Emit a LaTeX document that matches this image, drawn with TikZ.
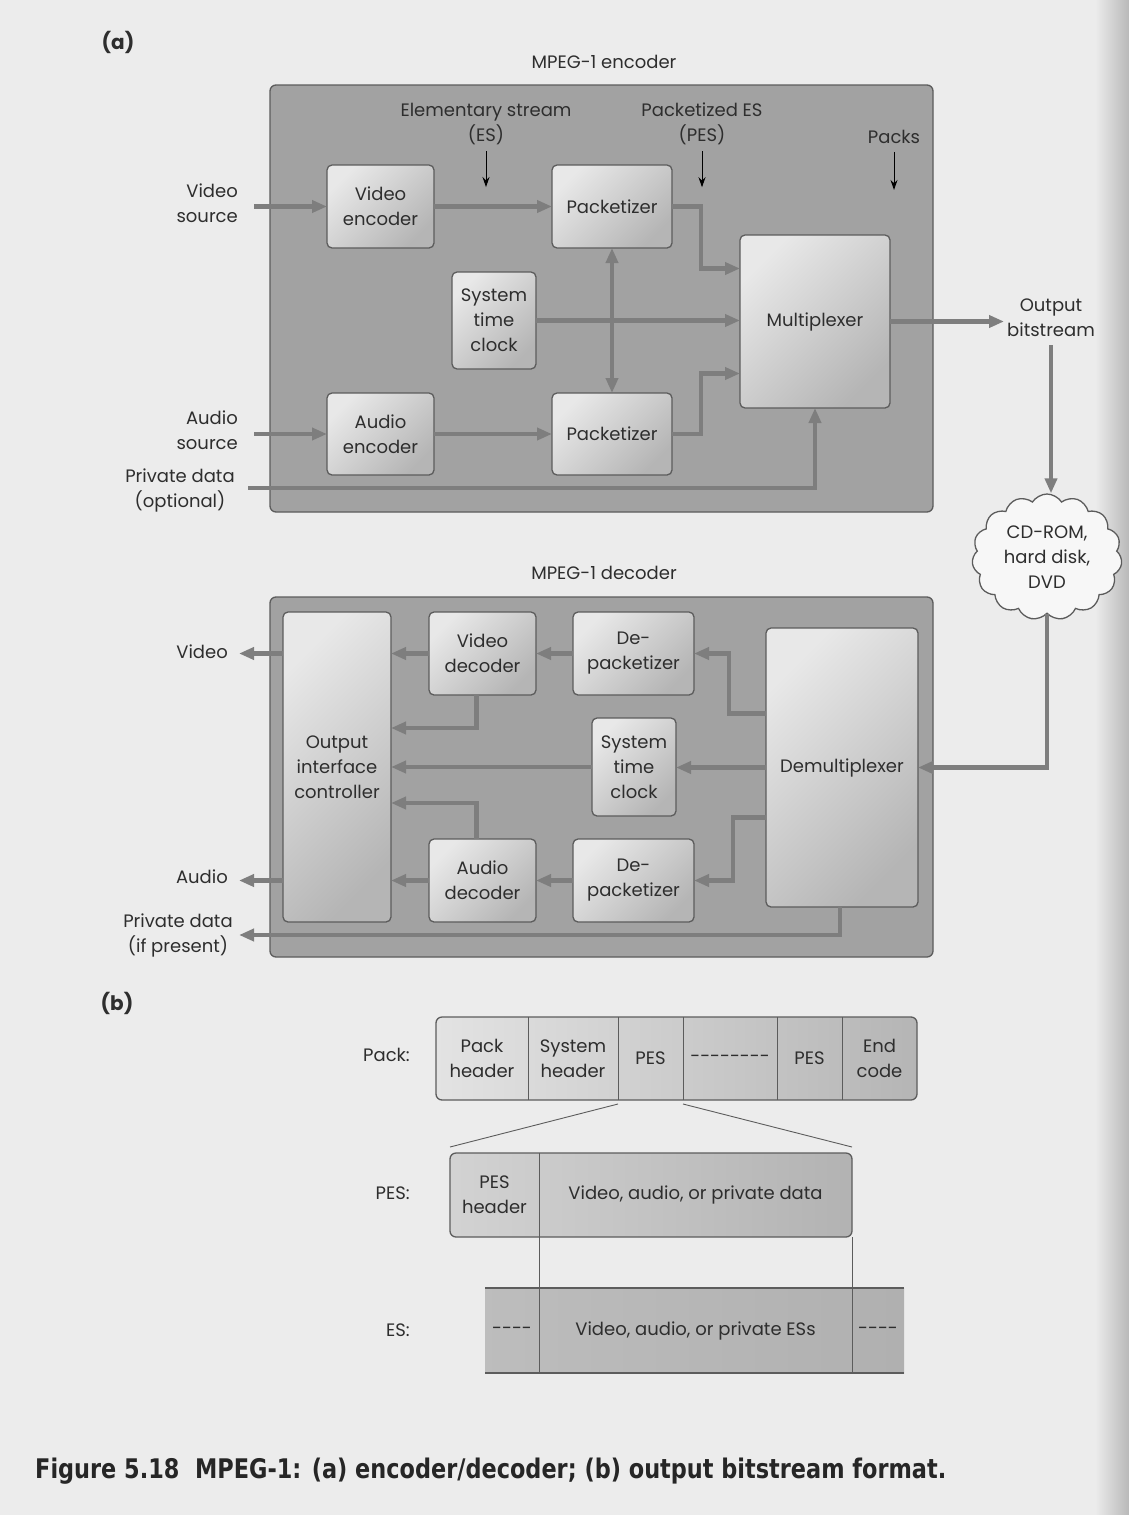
\documentclass[tikz,border=0pt]{standalone}
\usepackage{fontspec}
\setmainfont{Poppins}
\newfontfamily\capfont[FakeStretch=0.83]{DejaVu Sans}
\usetikzlibrary{arrows.meta,positioning,shapes.symbols}

\definecolor{pagebg}{HTML}{ECECEC}
\definecolor{boxbg}{HTML}{A2A2A2}
\definecolor{lineclr}{HTML}{7E7E7E}
\definecolor{edgeclr}{HTML}{5C5C5C}
\definecolor{inkclr}{HTML}{2E2E2E}

\tikzset{
  lbl/.style={font=\fontsize{18}{25}\selectfont, text=inkclr, align=center, inner sep=0pt},
  blk/.style={lbl, draw=edgeclr, line width=1.3pt, rounded corners=5pt, top color=gray!18, bottom color=gray!58, shading angle=45, outer sep=0pt},
  outerbox/.style={draw=edgeclr, line width=1.3pt, rounded corners=6pt, fill=boxbg},
  flow/.style={draw=lineclr, line width=4.5pt, -{Triangle[length=15pt,width=12pt]}},
  both/.style={flow, {Triangle[length=15pt,width=12pt]}-{Triangle[length=15pt,width=12pt]}},
  tick/.style={black, line width=1pt, -{Stealth[length=10pt,width=7pt]}},
  cell/.style={lbl, minimum height=83pt, outer sep=0pt},
  divider/.style={edgeclr, line width=0.9pt},
}

\begin{document}
\begin{tikzpicture}[x=1pt, y=-1pt]
    \useasboundingbox (0,0) rectangle (1129,1515);
    \fill[pagebg] (0,0) rectangle (1129,1515);
    \shade[left color=pagebg, right color=gray!55] (1095,0) rectangle (1129,1515);

    % (a) encoder
    \node[lbl, font=\fontsize{20}{24}\selectfont\bfseries] (tagA) at (118,42) {(a)};
    \node[lbl] (enctitle) at (604,62) {MPEG-1 encoder};
    \node[outerbox, minimum width=663pt, minimum height=427pt] (encbox) at (601.5,298.5) {};

    \node[blk, minimum width=107pt, minimum height=83pt] (venc) at (380.5,206.5) {Video\\encoder};
    \node[blk, minimum width=120pt, minimum height=83pt] (pk1) at (612,206.5) {Packetizer};
    \node[blk, minimum width=84pt, minimum height=97pt] (stc) at (494,320.5) {System\\time\\clock};
    \node[blk, minimum width=107pt, minimum height=82pt] (aenc) at (380.5,434) {Audio\\encoder};
    \node[blk, minimum width=120pt, minimum height=82pt] (pk2) at (612,434) {Packetizer};
    \node[blk, minimum width=150pt, minimum height=173pt] (mux) at (815,321.5) {Multiplexer};

    \node[lbl, align=right, anchor=east] (vsrc) at (238,203) {Video\\source};
    \node[lbl, align=right, anchor=east] (asrc) at (238,430) {Audio\\source};
    \node[lbl] (privin) at (180,490) {Private data\\(optional)};
    \node[lbl] (esl) at (486,124) {Elementary stream\\(ES)};
    \node[lbl] (pesl) at (702,124) {Packetized ES\\(PES)};
    \node[lbl] (packs) at (894,137) {Packs};
    \node[lbl] (outl) at (1051,318) {Output\\bitstream};
    \node[lbl, cloud, cloud puffs=15, cloud puff arc=115, aspect=1.2, draw=edgeclr, line width=1.3pt,
          fill=white!60!pagebg, minimum width=150pt, minimum height=126pt] (store) at (1047,557) {CD-ROM,\\hard disk,\\DVD};

    \coordinate (vin) at (254,206.5);
    \coordinate (ain) at (254,434);
    \coordinate (pin) at (248,488);
    \coordinate (oarr) at (1004,321.5);

    \draw[flow] (vin) -- (venc.west);
    \draw[flow] (venc.east) -- (pk1.west);
    \draw[flow] (ain) -- (aenc.west);
    \draw[flow] (aenc.east) -- (pk2.west);
    \draw[flow] (stc.east) -- (stc.east -| mux.west);
    \draw[both] (pk1.south) -- (pk2.north);
    \draw[flow] (pk1.east) -- ++(29,0) |- ([yshift=53pt]mux.west);
    \draw[flow] (pk2.east) -- ++(29,0) |- ([yshift=-52pt]mux.west);
    \draw[flow] (pin) -| (mux.south);
    \draw[flow] (mux.east) -- (oarr);
    \draw[flow] ([yshift=-8pt]outl.south) -- (outl.south |- store.north);
    \draw[tick] ([yshift=-6pt]esl.south) -- ++(0,36);
    \draw[tick] ([yshift=-6pt]pesl.south) -- ++(0,36);
    \draw[tick] ([yshift=-8pt]packs.south) -- ++(0,38);

    % (a) decoder
    \node[lbl] (dectitle) at (604,573) {MPEG-1 decoder};
    \node[outerbox, minimum width=663pt, minimum height=360pt] (decbox) at (601.5,777) {};

    \node[blk, minimum width=108pt, minimum height=310pt] (oic) at (337,767) {Output\\interface\\controller};
    \node[blk, minimum width=107pt, minimum height=83pt] (vdec) at (482.5,653.5) {Video\\decoder};
    \node[blk, minimum width=121pt, minimum height=83pt] (dpk1) at (633.5,653.5) {De-\\packetizer};
    \node[blk, minimum width=84pt, minimum height=98pt] (dstc) at (634,767) {System\\time\\clock};
    \node[blk, minimum width=107pt, minimum height=83pt] (adec) at (482.5,880.5) {Audio\\decoder};
    \node[blk, minimum width=121pt, minimum height=83pt] (dpk2) at (633.5,880.5) {De-\\packetizer};
    \node[blk, minimum width=152pt, minimum height=279pt] (dmx) at (842,767.5) {Demultiplexer};

    \node[lbl, anchor=east] (vidl) at (228,652) {Video};
    \node[lbl, anchor=east] (audl) at (228,877) {Audio};
    \node[lbl] (privout) at (178,935) {Private data\\(if present)};

    \coordinate (vout) at (239,653.5);
    \coordinate (aout) at (239,880.5);
    \coordinate (pout) at (239,935);

    \draw[flow] (store.south) |- (dmx.east);
    \draw[flow] ([yshift=54pt]dmx.west) -- ++(-37,0) |- (dpk1.east);
    \draw[flow] ([yshift=-50pt]dmx.west) -- ++(-33,0) |- (dpk2.east);
    \draw[flow] (dmx.west) -- (dmx.west -| dstc.east);
    \draw[flow] (dpk1.west) -- (vdec.east);
    \draw[flow] (dpk2.west) -- (adec.east);
    \draw[flow] (vdec.west) -- (vdec.west -| oic.east);
    \draw[flow] (adec.west) -- (adec.west -| oic.east);
    \draw[flow] (dstc.west) -- (dstc.west -| oic.east);
    \draw[flow] ([xshift=-6pt]vdec.south) |- ([yshift=39pt]oic.east);
    \draw[flow] ([xshift=-6pt]adec.north) |- ([yshift=-36pt]oic.east);
    \draw[flow] (oic.west |- vout) -- (vout);
    \draw[flow] (oic.west |- aout) -- (aout);
    \draw[flow] ([xshift=-2pt]dmx.south) |- (pout);

    % (b) bitstream
    \node[lbl, font=\fontsize{20}{24}\selectfont\bfseries] (tagB) at (117,1003) {(b)};
    \node[lbl, anchor=east] (packl) at (410,1055) {Pack:};
    \node[lbl, anchor=east] (pesrow) at (410,1193) {PES:};
    \node[lbl, anchor=east] (esrow) at (410,1330) {ES:};

    \shade[draw=edgeclr, line width=1.3pt, rounded corners=6pt, left color=gray!22, right color=gray!58] (436,1017) rectangle (917,1100);
    \node[cell, minimum width=92pt] (ph) at (482,1058.5) {Pack\\header};
    \node[cell, minimum width=90pt, right=0pt of ph] (sh) {System\\header};
    \node[cell, minimum width=65pt, right=0pt of sh] (pa) {PES};
    \node[cell, minimum width=94pt, right=0pt of pa] (pd) {-{}-{}-{}-{}-{}-{}-{}-};
    \node[cell, minimum width=65pt, right=0pt of pd] (pb) {PES};
    \node[cell, minimum width=75pt, right=0pt of pb] (ec) {End\\code};
    \foreach \c in {ph,sh,pa,pd,pb}
        \draw[divider] (\c.north east) -- (\c.south east);

    \shade[draw=edgeclr, line width=1.3pt, rounded corners=6pt, left color=gray!35, right color=gray!60] (450,1153) rectangle (852,1237);
    \node[cell, minimum width=89pt, minimum height=84pt] (pesh) at (494.5,1195) {PES\\header};
    \node[cell, minimum width=313pt, minimum height=84pt, right=0pt of pesh] (pesd) {Video, audio, or private data};
    \draw[divider] (pesh.north east) -- (pesh.south east);
    \draw[divider] ([yshift=-4pt]pa.south west) -- ([yshift=6pt]pesh.north west);
    \draw[divider] ([yshift=-4pt]pd.south west) -- ([yshift=6pt]pesd.north east);

    \shade[left color=gray!52, right color=gray!62] (485,1288) rectangle (904,1373);
    \draw[edgeclr, line width=2.5pt] (485,1288) -- (904,1288);
    \draw[edgeclr, line width=2.5pt] (485,1373) -- (904,1373);
    \node[cell, minimum width=54pt, minimum height=85pt] (esa) at (512,1330.5) {-{}-{}-{}-};
    \node[cell, minimum width=313pt, minimum height=85pt, right=0pt of esa] (esd) {Video, audio, or private ESs};
    \node[cell, minimum width=52pt, minimum height=85pt, right=0pt of esd] (esb) {-{}-{}-{}-};
    \draw[divider] (esa.north east) -- (esa.south east);
    \draw[divider] (esd.north east) -- (esd.south east);
    \draw[divider] (pesh.south east) -- (esa.north east);
    \draw[divider] (pesd.south east) -- (esd.north east);

    % caption
    \node[anchor=west, inner sep=0pt, text=black!85, font=\capfont\bfseries\fontsize{27}{30}\selectfont] (caption) at (35,1471)
        {Figure 5.18\ \ MPEG-1: (a) encoder/decoder; (b) output bitstream format.};
\end{tikzpicture}
\end{document}
